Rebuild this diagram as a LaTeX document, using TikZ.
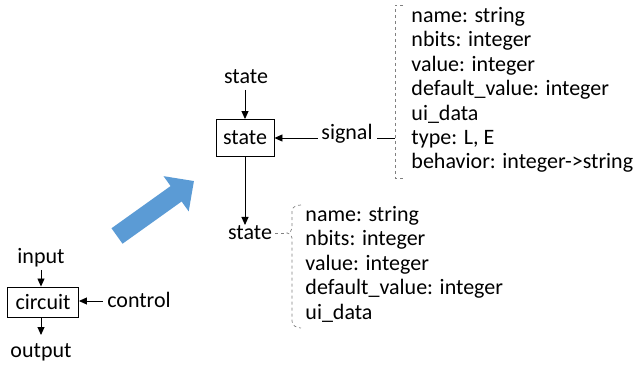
\documentclass[tikz,border=0pt]{standalone}
\usepackage{fontspec}
\setmainfont{Carlito}
\usetikzlibrary{arrows.meta,positioning}
\definecolor{officeblue}{HTML}{5B9BD5}

\begin{document}
\begin{tikzpicture}[x=1pt, y=-1pt,
  txt/.style={inner sep=0pt, font=\fontsize{22}{24.5}\selectfont},
  blk/.style={draw, line width=0.9pt, inner sep=0pt, font=\fontsize{22}{24.5}\selectfont},
  lst/.style={align=left, anchor=north west, inner sep=0pt, font=\fontsize{22}{24.4}\selectfont},
  brk/.style={draw=gray, dashed, line width=0.7pt},
  >={Triangle[length=8pt,width=7pt]}, line width=0.9pt]
  \useasboundingbox (0,0) rectangle (643,366);
  % circuit
  \node[blk, minimum width=71pt, minimum height=30pt] (circ) at (43,302) {circuit};
  \node[txt] (inp) at (41,258) {input};
  \node[txt] (ctl) at (139,300) {control};
  \node[txt] (outp) at (41,352) {output};
  \draw[->] (inp.south |- 0,270) -- (inp.south |- circ.north);
  \draw[->] (ctl.west) ++(-4,1) coordinate (c1) (c1) -- (circ.east |- c1);
  \draw[->] (inp.south |- circ.south) -- (inp.south |- 0,335);
  % big arrow
  \coordinate (tail) at (117,236);
  \coordinate (head) at (194,181);
  \draw[officeblue, line width=19pt, -{Triangle[length=22pt,width=42pt]}] (tail) -- (head);
  % state
  \node[blk, minimum width=58pt, minimum height=37pt] (st) at (245,138) {state};
  \node[txt] (stin) at (246,77) {state};
  \node[txt] (sig) at (347,134) {signal};
  \node[txt] (stout) at (250,233) {state};
  \draw[->] (st.north |- 0,90) -- (st.north);
  \draw[->] (sig.west |- st.east) ++(-3,0) coordinate (s1) (s1) -- (st.east);
  \draw[->] (st.south) -- (st.south |- 0,225);
  % signal fields
  \node[lst] (sigl) at (411,7) {name: string\\nbits: integer\\value: integer\\default\_value: integer\\ui\_data\\type: L, E\\behavior: integer->string};
  \draw[brk] (403,5) -- (395,5) -- (395,178) -- (403,178);
  \coordinate (sigb) at (395,138);
  \draw (sig.east |- sigb) ++(4,0) -- (sigb);
  % state fields
  \node[lst] (stl) at (305,206) {name: string\\nbits: integer\\value: integer\\default\_value: integer\\ui\_data};
  \draw[brk] (301,205) to[out=180,in=90] (292,211) -- (292,228) to[out=270,in=0] (287,233)
    to[out=0,in=90] (292,238) -- (292,321) to[out=270,in=180] (301,328);
  \coordinate (stb) at (287,233);
  \draw[brk] (stout.east) ++(3,0) -- (stb);
\end{tikzpicture}
\end{document}
